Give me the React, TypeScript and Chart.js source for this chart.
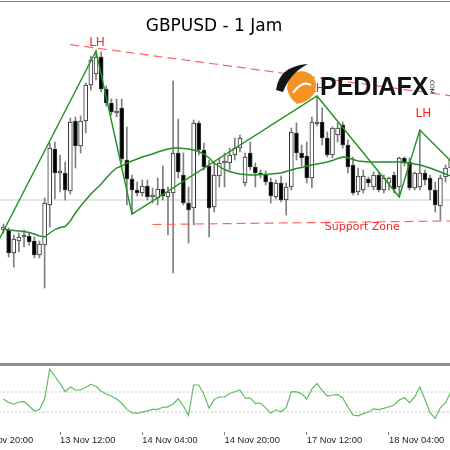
import React, { useEffect, useRef } from "react";
import { Chart, registerables } from "chart.js";

Chart.register(...registerables);

// ---------- DATA (GBPUSD H1, bar index 0 = 13 Nov 01:00) ----------
const openP = [
  1.3070, 1.3070, 1.3047, 1.3059, 1.3063, 1.3064, 1.3059, 1.3045, 1.3055, 1.3095,
  1.3151, 1.3127, 1.3127, 1.3109, 1.3179, 1.3154, 1.3179, 1.3215, 1.3226, 1.3243,
  1.3211, 1.3197, 1.3187, 1.3192, 1.3140, 1.3121, 1.3110, 1.3107, 1.3114, 1.3103,
  1.3102, 1.3111, 1.3103, 1.3107, 1.3147, 1.3125, 1.3097, 1.3092, 1.3177, 1.3150,
  1.3134, 1.3093, 1.3124, 1.3137, 1.3137, 1.3145, 1.3152, 1.3117, 1.3147, 1.3133,
  1.3127, 1.3126, 1.3118, 1.3103, 1.3117, 1.3100, 1.3113, 1.3167, 1.3147, 1.3144,
  1.3122, 1.3176, 1.3178, 1.3162, 1.3145, 1.3165, 1.3175, 1.3155, 1.3135, 1.3108,
  1.3110, 1.3121, 1.3113, 1.3125, 1.3110, 1.3117, 1.3125, 1.3113, 1.3142, 1.3138,
  1.3112, 1.3113, 1.3127, 1.3122, 1.3110, 1.3094, 1.3123, 1.3132,
];
const highP = [
  1.3076, 1.3072, 1.3065, 1.3067, 1.3070, 1.3067, 1.3063, 1.3059, 1.3102, 1.3157,
  1.3158, 1.3145, 1.3138, 1.3182, 1.3183, 1.3184, 1.3217, 1.3244, 1.3249, 1.3248,
  1.3214, 1.3201, 1.3201, 1.3201, 1.3173, 1.3125, 1.3118, 1.3120, 1.3120, 1.3112,
  1.3122, 1.3134, 1.3113, 1.3219, 1.3181, 1.3147, 1.3113, 1.3180, 1.3179, 1.3157,
  1.3140, 1.3137, 1.3142, 1.3147, 1.3152, 1.3162, 1.3165, 1.3147, 1.3158, 1.3137,
  1.3130, 1.3129, 1.3122, 1.3120, 1.3124, 1.3117, 1.3172, 1.3177, 1.3155, 1.3158,
  1.3183, 1.3204, 1.3192, 1.3168, 1.3173, 1.3177, 1.3178, 1.3160, 1.3143, 1.3132,
  1.3130, 1.3123, 1.3128, 1.3128, 1.3125, 1.3123, 1.3128, 1.3143, 1.3143, 1.3142,
  1.3128, 1.3170, 1.3130, 1.3125, 1.3118, 1.3125, 1.3135, 1.3145,
];
const lowP = [
  1.3067, 1.3043, 1.3033, 1.3048, 1.3053, 1.3055, 1.3042, 1.3042, 1.3012, 1.3073,
  1.3101, 1.3108, 1.3100, 1.3106, 1.3132, 1.3147, 1.3167, 1.3210, 1.3220, 1.3208,
  1.3194, 1.3185, 1.3183, 1.3138, 1.3095, 1.3086, 1.3104, 1.3104, 1.3100, 1.3097,
  1.3095, 1.3100, 1.3065, 1.3027, 1.3122, 1.3095, 1.3057, 1.3075, 1.3145, 1.3130,
  1.3063, 1.3088, 1.3113, 1.3113, 1.3130, 1.3140, 1.3148, 1.3114, 1.3130, 1.3113,
  1.3122, 1.3115, 1.3097, 1.3101, 1.3098, 1.3085, 1.3110, 1.3140, 1.3134, 1.3117,
  1.3112, 1.3174, 1.3155, 1.3143, 1.3142, 1.3158, 1.3152, 1.3127, 1.3105, 1.3105,
  1.3107, 1.3113, 1.3110, 1.3108, 1.3107, 1.3110, 1.3107, 1.3103, 1.3134, 1.3110,
  1.3110, 1.3110, 1.3115, 1.3100, 1.3088, 1.3080, 1.3118, 1.3128,
];
const closeP = [
  1.3073, 1.3047, 1.3061, 1.3063, 1.3065, 1.3058, 1.3045, 1.3056, 1.3097, 1.3152,
  1.3127, 1.3129, 1.3110, 1.3178, 1.3154, 1.3179, 1.3215, 1.3240, 1.3243, 1.3211,
  1.3197, 1.3188, 1.3189, 1.3141, 1.3121, 1.3110, 1.3107, 1.3114, 1.3103, 1.3105,
  1.3111, 1.3104, 1.3108, 1.3147, 1.3128, 1.3097, 1.3090, 1.3177, 1.3150, 1.3133,
  1.3092, 1.3125, 1.3137, 1.3139, 1.3145, 1.3152, 1.3162, 1.3143, 1.3133, 1.3127,
  1.3126, 1.3118, 1.3104, 1.3117, 1.3100, 1.3113, 1.3168, 1.3147, 1.3142, 1.3122,
  1.3178, 1.3178, 1.3162, 1.3145, 1.3172, 1.3172, 1.3155, 1.3133, 1.3107, 1.3124,
  1.3124, 1.3117, 1.3125, 1.3110, 1.3122, 1.3122, 1.3111, 1.3142, 1.3137, 1.3112,
  1.3127, 1.3127, 1.3120, 1.3110, 1.3095, 1.3122, 1.3132, 1.3140,
];
const maValues = [
  1.3071, 1.3070, 1.30695, 1.3069, 1.30685, 1.30675, 1.3066, 1.3064, 1.3063, 1.3067,
  1.30705, 1.30725, 1.30735, 1.3079, 1.3087, 1.3094, 1.3100, 1.3106, 1.3111, 1.3116,
  1.3122, 1.31275, 1.3132, 1.3134, 1.3137, 1.3139, 1.3141, 1.3143, 1.31445, 1.3146,
  1.3148, 1.31495, 1.3151, 1.3152, 1.3152, 1.31515, 1.3151, 1.3150, 1.31485, 1.3146,
  1.3142, 1.3137, 1.31335, 1.31305, 1.31285, 1.3127, 1.3126, 1.31255, 1.3125, 1.3125,
  1.31255, 1.31255, 1.3126, 1.31265, 1.3127, 1.31285, 1.3130, 1.31315, 1.31325, 1.3134,
  1.3135, 1.3136, 1.3137, 1.3138, 1.31395, 1.31415, 1.3143, 1.31425, 1.31405, 1.3139,
  1.31385, 1.3138, 1.3138, 1.3138, 1.3138, 1.3138, 1.3138, 1.3138, 1.31375, 1.3137,
  1.3136, 1.3135, 1.31335, 1.3132, 1.3130, 1.3128, 1.3126, 1.3124,
];
const cciValues = [
  30, -5, -20, 0, 3, -40, -90, -75, 30, 330,
  255, 187, 103, 150, 120, 120, 147, 177, 157, 107,
  80, 60, 30, -13, -74, -107, -113, -102, -88, -73,
  -73, -53, -49, -20, 32, -40, -135, 170, 170, 75,
  -62, 25, 50, 50, 85, 103, 120, 38, 40, -13,
  -10, -58, -113, -78, -97, -55, 103, 101, 84, 30,
  130, 185, 114, 60, 70, 74, 40, -50, -130, -138,
  -116, -100, -68, -77, -63, -47, -30, 20, 45, -7,
  50, 150, 25, -110, -165, -56, -10, 100,
];
const cciLevels = [100, -100];

const zigzagIdx = [-2, 18, 25, 61, 77, 81, 88];
const zigzagPrice = [1.3049, 1.3249, 1.3086, 1.3204, 1.3103, 1.3170, 1.3134];
const resistanceIdx = [13, 87];
const resistancePrice = [1.32554, 1.32043];
const supportIdx = [29, 87];
const supportPrice = [1.30755, 1.3079];
const priceLineIdx = [-1, 88];
const priceLineLevel = 1.31;

const lhText = ["LH", "LH", "LH"];
const lhIdx = [18.2, 61, 81.7];
const lhPrice = [1.3257, 1.3211, 1.3186];
const supportText = "Support Zone";
const supportLabelIdx = 69.8;
const supportLabelPrice = 1.3073;
const titleText = "GBPUSD - 1 Jam";

const tickIdx = [-5, 11, 27, 43, 59, 75];
const tickLabels = ["12 Nov 20:00", "13 Nov 12:00", "14 Nov 04:00", "14 Nov 20:00", "17 Nov 12:00", "18 Nov 04:00"];

// ---------- view ----------
const X_MIN = -0.68;
const X_MAX = 86.87;
const P_MIN = 1.2937;
const P_MAX = 1.33;
const CCI_MIN = -300;
const CCI_MAX = 360;

function drawLogo(ctx: CanvasRenderingContext2D) {
  ctx.save();
  ctx.fillStyle = "#f39323";
  ctx.beginPath();
  ctx.moveTo(301, 71);
  ctx.quadraticCurveTo(317, 73, 316, 88);
  ctx.quadraticCurveTo(313, 101, 297, 104);
  ctx.quadraticCurveTo(288, 97, 287, 88);
  ctx.quadraticCurveTo(288, 73, 301, 71);
  ctx.fill();
  ctx.strokeStyle = "#ffffff";
  ctx.lineWidth = 2;
  ctx.beginPath();
  ctx.moveTo(293, 93);
  ctx.quadraticCurveTo(302, 80, 311, 85);
  ctx.stroke();
  ctx.fillStyle = "#151515";
  ctx.beginPath();
  ctx.moveTo(276, 90);
  ctx.quadraticCurveTo(279, 66, 308, 64);
  ctx.quadraticCurveTo(290, 73, 283, 92);
  ctx.closePath();
  ctx.fill();
  ctx.fillStyle = "#111111";
  ctx.font = 'bold 25px "Liberation Sans"';
  ctx.textAlign = "left";
  ctx.textBaseline = "alphabetic";
  ctx.fillText("PEDIAFX", 320, 95);
  ctx.translate(430, 78);
  ctx.rotate(Math.PI / 2);
  ctx.font = '6px "DejaVu Sans"';
  ctx.fillText(".COM", 0, 0);
  ctx.restore();
}

const annotate = {
  id: "annotate",
  afterDatasetsDraw(chart: any) {
    const { ctx } = chart;
    const x = chart.scales.x;
    const y = chart.scales.y;
    ctx.save();
    ctx.textAlign = "center";
    ctx.textBaseline = "middle";
    ctx.fillStyle = "#000";
    ctx.font = '17px "DejaVu Sans"';
    ctx.fillText(titleText, 214, 27);
    ctx.fillStyle = "#ff2020";
    ctx.font = '12px "DejaVu Sans"';
    lhIdx.forEach((v, k) => {
      ctx.fillText(lhText[k], x.getPixelForValue(v), y.getPixelForValue(lhPrice[k]));
    });
    ctx.font = '11px "DejaVu Sans"';
    ctx.fillText(supportText, x.getPixelForValue(supportLabelIdx), y.getPixelForValue(supportLabelPrice));
    ctx.restore();
    drawLogo(ctx);
  },
};

export default function App() {
  const mainRef = useRef<HTMLCanvasElement>(null);
  const subRef = useRef<HTMLCanvasElement>(null);

  useEffect(() => {
    document.body.style.margin = "0";
    const idx = openP.map((_, i) => i);
    const bull = idx.map((i) => closeP[i] >= openP[i]);

    const main = new Chart(mainRef.current as HTMLCanvasElement, {
      type: "bar",
      data: {
        datasets: [
          {
            type: "line",
            data: zigzagIdx.map((v, k) => ({ x: v, y: zigzagPrice[k] })),
            borderColor: "#1f931f",
            borderWidth: 1.4,
            pointRadius: 0,
            tension: 0,
            order: 0,
          } as any,
          {
            type: "line",
            data: maValues.map((v, i) => ({ x: i, y: v })),
            borderColor: "#268c26",
            borderWidth: 1.4,
            pointRadius: 0,
            tension: 0,
            order: 1,
          } as any,
          {
            type: "line",
            data: resistanceIdx.map((v, k) => ({ x: v, y: resistancePrice[k] })),
            borderColor: "#ff6464",
            borderWidth: 1.2,
            borderDash: [9, 5],
            pointRadius: 0,
            order: 1,
          } as any,
          {
            type: "line",
            data: supportIdx.map((v, k) => ({ x: v, y: supportPrice[k] })),
            borderColor: "#ff6464",
            borderWidth: 1.2,
            borderDash: [9, 5],
            pointRadius: 0,
            order: 1,
          } as any,
          {
            type: "bar",
            data: idx.map((i) => ({ x: i, y: [openP[i], closeP[i]] })),
            backgroundColor: bull.map((b) => (b ? "#ffffff" : "#000000")),
            borderColor: "#333333",
            borderWidth: 1,
            borderSkipped: false,
            barThickness: 4,
            minBarLength: 1,
            grouped: false,
            order: 2,
          } as any,
          {
            type: "bar",
            data: idx.map((i) => ({ x: i, y: [lowP[i], highP[i]] })),
            backgroundColor: "#7e7e7e",
            borderWidth: 0,
            barThickness: 1,
            grouped: false,
            order: 3,
          } as any,
          {
            type: "line",
            data: priceLineIdx.map((v) => ({ x: v, y: priceLineLevel })),
            borderColor: "#dcdcdc",
            borderWidth: 1.5,
            pointRadius: 0,
            order: 5,
          } as any,
        ],
      },
      options: {
        responsive: false,
        maintainAspectRatio: false,
        animation: false,
        events: [],
        layout: { padding: 0, autoPadding: false } as any,
        plugins: { legend: { display: false }, tooltip: { enabled: false } },
        scales: {
          x: { type: "linear", min: X_MIN, max: X_MAX, offset: false, display: false },
          y: { type: "linear", min: P_MIN, max: P_MAX, beginAtZero: false, display: false },
        },
      },
      plugins: [annotate],
    } as any);

    const sub = new Chart(subRef.current as HTMLCanvasElement, {
      type: "line",
      data: {
        datasets: [
          {
            data: cciValues.map((v, i) => ({ x: i, y: v })),
            borderColor: "#5fbd5f",
            borderWidth: 1.2,
            pointRadius: 0,
            tension: 0,
            order: 0,
          },
          ...cciLevels.map((lv) => ({
            data: [
              { x: X_MIN - 1, y: lv },
              { x: X_MAX + 1, y: lv },
            ],
            borderColor: "#c2c2c2",
            borderWidth: 1,
            borderDash: [2, 2],
            pointRadius: 0,
            order: 1,
          })),
        ],
      },
      options: {
        responsive: false,
        maintainAspectRatio: false,
        animation: false,
        events: [],
        layout: { padding: 0, autoPadding: false } as any,
        plugins: { legend: { display: false }, tooltip: { enabled: false } },
        scales: {
          x: {
            type: "linear",
            min: X_MIN,
            max: X_MAX,
            offset: false,
            position: "bottom",
            afterBuildTicks: (s: any) => {
              s.ticks = tickIdx.map((v) => ({ value: v }));
            },
            afterFit: (s: any) => {
              s.height = 18;
              s.paddingLeft = 0;
              s.paddingRight = 0;
            },
            ticks: {
              autoSkip: false,
              maxRotation: 0,
              minRotation: 0,
              align: "start",
              padding: 0,
              color: "#222",
              font: { family: "Liberation Sans", size: 9.3 },
              callback: (_v: any, i: number) => tickLabels[i],
            },
            grid: { drawOnChartArea: false, drawTicks: true, tickLength: 3, color: "#808080" },
            border: { display: false },
          },
          y: { type: "linear", min: CCI_MIN, max: CCI_MAX, display: false },
        },
      },
    } as any);

    return () => {
      main.destroy();
      sub.destroy();
    };
  }, []);

  return (
    <div style={{ position: "absolute", left: 0, top: 0, width: 450, height: 450, background: "#fff", overflow: "hidden" }}>
      <canvas ref={mainRef} width={450} height={363} style={{ position: "absolute", left: 0, top: 0 }} />
      <div style={{ position: "absolute", left: 0, top: 1, width: 450, height: 1, background: "#7a7a7a" }} />
      <div style={{ position: "absolute", left: 0, top: 363, width: 450, height: 3, background: "#8e8e8e" }} />
      <canvas ref={subRef} width={450} height={84} style={{ position: "absolute", left: 0, top: 366 }} />
    </div>
  );
}
